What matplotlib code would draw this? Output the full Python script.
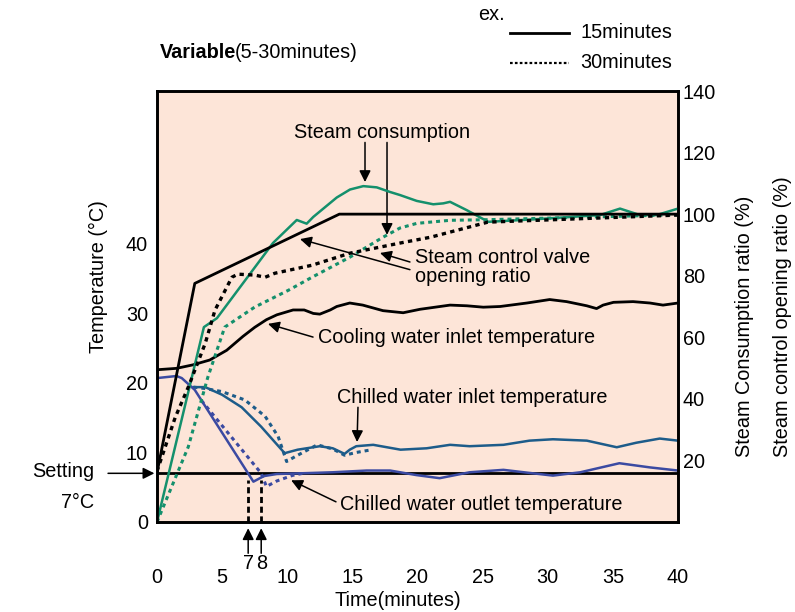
import matplotlib.pyplot as plt
from matplotlib.lines import Line2D

plt.rcParams['font.family'] = ['Liberation Sans', 'DejaVu Sans']
plt.rcParams['font.size'] = 14.3

# steam control valve opening ratio (%), right axis
valve_15_t = [0, 2.9, 14.0, 40]
valve_15 = [16, 77.5, 100, 100]
valve_30_t = [0, 0.6, 1.4, 2.4, 3.7, 4.45, 5.75, 6.2, 7.5, 8.3, 9.05, 11.9, 14.8, 18.65, 21, 25.4, 40]
valve_30 = [16.5, 24, 34, 43.8, 58, 68.8, 79.5, 80.5, 80.2, 79.5, 80.8, 83.4, 87.3, 90.6, 92.5, 97.4, 99.7]

# steam consumption ratio (%), right axis
steam_15_t = [0, 3.6, 4.6, 8.9, 10.73, 11.11, 11.49, 12.0, 12.77, 13.8, 14.82, 15.84, 16.87, 17.89,
              18.66, 19.94, 21.21, 21.98, 22.5, 23.78, 25.44, 28.89, 34.01, 35.55, 37.08, 38.36, 40]
steam_15 = [0, 63.3, 66.2, 90.6, 98.1, 97.5, 96.9, 99.1, 101.8, 105.4, 108.0, 109.1, 108.7, 107.2,
            106.2, 104.3, 103.2, 103.5, 104.0, 101.3, 97.5, 98.3, 99.7, 101.8, 99.7, 99.7, 101.8]
steam_30_t = [0, 2.4, 3.9, 5.2, 7.5, 10.1, 11.9, 14.8, 17.35, 18.66, 19.94, 22.5, 25.44, 40]
steam_30 = [0, 24.4, 47, 63.3, 69.8, 75.3, 79.5, 86, 92.5, 95.5, 97, 98, 98.2, 99.8]

# cooling water inlet temperature (C)
cooling_t = [0, 1.5, 2.75, 4.05, 5.35, 6.6, 7.5, 8.4, 9.2, 10.45, 11.3, 12.0, 12.5, 13.3, 13.8,
             14.8, 15.8, 17.35, 18.9, 20.2, 22.5, 23.8, 25.05, 26.35, 28.4, 30.15, 31.45, 33.0,
             33.75, 34.25, 35.05, 36.55, 37.85, 38.85, 40]
cooling = [21.9, 22.1, 22.6, 23.3, 24.7, 26.7, 28.0, 29.1, 29.8, 30.5, 30.5, 30.0, 29.9, 30.5, 31.0,
           31.5, 31.2, 30.4, 30.1, 30.6, 31.2, 31.1, 30.9, 31.0, 31.5, 32.0, 31.7, 31.1,
           30.7, 31.2, 31.6, 31.7, 31.5, 31.2, 31.5]

# chilled water inlet temperature (C)
inlet_15_t = [2.8, 3.7, 5.0, 6.5, 8.0, 9.8, 10.8, 12.5, 13.5, 14.4, 14.8, 15.3, 16.6, 18.7, 20.7,
              22.5, 24.0, 26.6, 28.6, 30.4, 33.0, 35.3, 36.8, 38.6, 40]
inlet_15 = [19.4, 19.4, 18.3, 16.5, 13.7, 9.9, 10.4, 10.9, 10.6, 9.8, 10.4, 10.9, 11.1, 10.4, 10.6,
            11.1, 10.9, 11.1, 11.7, 11.9, 11.7, 10.75, 11.4, 12.0, 11.7]
inlet_30_t = [2.8, 3.7, 5.0, 6.75, 8.3, 9.3, 9.95, 10.6, 11.6, 12.3, 13.5, 14.4, 15.3, 16.5]
inlet_30 = [19.4, 19.2, 18.75, 17.55, 15.2, 12.3, 8.7, 9.4, 10.4, 11.1, 10.5, 9.6, 10.0, 10.4]

# chilled water outlet temperature (C)
outlet_15_t = [0, 1.5, 1.9, 2.9, 7.4, 8.2, 9.2, 11.0, 13.5, 16.1, 17.9, 19.9, 21.7, 24.0, 26.6,
               28.4, 30.4, 32.5, 35.5, 37.85, 40]
outlet_15 = [20.7, 21.0, 20.7, 19.0, 5.8, 6.6, 6.9, 7.0, 7.15, 7.4, 7.4, 6.75, 6.3, 7.15, 7.5,
             7.1, 6.67, 7.15, 8.45, 7.85, 7.4]
outlet_30_t = [3.4, 8.0, 8.4, 9.2, 10.4, 11.2]
outlet_30 = [17.5, 7.0, 5.1, 5.9, 6.7, 7.0]

setting = 7
reach_times = [7, 8]

x_ticks = [0, 5, 10, 15, 20, 25, 30, 35, 40]
temp_ticks = [0, 10, 20, 30, 40]
ratio_ticks = [20, 40, 60, 80, 100, 120, 140]

GREEN = '#14906c'
INLET = '#1d5c8a'
OUTLET = '#3b4aa2'
dots = (0, (1.3, 1.3))

fig = plt.figure(figsize=(7.95, 6.12), dpi=100)
ax = fig.add_axes([0.1975, 0.1471, 0.6553, 0.7042])
ax.set_facecolor('#fde5d8')
ax.set_xlim(0, 40)
ax.set_ylim(0, 62)
ax2 = ax.twinx()
ax2.set_ylim(0, 140)

for a in (ax, ax2):
    for s in a.spines.values():
        s.set_linewidth(1.9)

# temperatures
ax.axhline(setting, color='black', lw=2.0)
for t in reach_times:
    ax.plot([t, t], [0, 6.1], color='black', ls=(0, (2.2, 1.3)), lw=2.0)
ax.plot(cooling_t, cooling, color='black', lw=2.0)
ax.plot(inlet_30_t, inlet_30, color=INLET, ls=dots, lw=2.2)
ax.plot(inlet_15_t, inlet_15, color=INLET, lw=1.8)
ax.plot(outlet_30_t, outlet_30, color=OUTLET, ls=dots, lw=2.2)
ax.plot(outlet_15_t, outlet_15, color=OUTLET, lw=1.8)

# steam ratios
ax2.plot(steam_30_t, steam_30, color=GREEN, ls=dots, lw=2.2)
ax2.plot(steam_15_t, steam_15, color=GREEN, lw=1.8)
ax2.plot(valve_30_t, valve_30, color='black', ls=dots, lw=2.4)
ax2.plot(valve_15_t, valve_15, color='black', lw=2.0)

ax.set_xticks(x_ticks)
ax.set_yticks(temp_ticks)
ax2.set_yticks(ratio_ticks)
ax.tick_params(axis='x', length=0, pad=33)
ax.tick_params(axis='y', length=0, pad=6.5)
ax2.tick_params(axis='y', length=0, pad=3.5)

arrow = dict(arrowstyle='-|>', color='black', lw=1.1, mutation_scale=17, shrinkA=0, shrinkB=0)

ax.text(17.3, 56.1, 'Steam consumption', ha='center', va='center')
ax.annotate('', xy=(15.97, 48.9), xytext=(15.97, 54.6), arrowprops=arrow)
ax.annotate('', xy=(17.66, 41.3), xytext=(17.66, 54.6), arrowprops=arrow)

ax.text(19.8, 38.0, 'Steam control valve', ha='left', va='center')
ax.text(19.8, 35.25, 'opening ratio', ha='left', va='center')
ax.annotate('', xy=(17.12, 38.7), xytext=(19.42, 37.4), arrowprops=arrow)
ax.annotate('', xy=(10.98, 40.7), xytext=(19.42, 36.3), arrowprops=arrow)

ax.text(12.36, 26.5, 'Cooling water inlet temperature', ha='left', va='center')
ax.annotate('', xy=(8.52, 28.5), xytext=(11.98, 26.6), arrowprops=arrow)

ax.text(13.82, 17.84, 'Chilled water inlet temperature', ha='left', va='center')
ax.annotate('', xy=(15.36, 11.5), xytext=(15.43, 16.5), arrowprops=arrow)

ax.text(14.05, 2.45, 'Chilled water outlet temperature', ha='left', va='center')
ax.annotate('', xy=(10.3, 6.0), xytext=(13.74, 2.9), arrowprops=arrow)

# setting marker on the left
ax.text(-4.8, 7.3, 'Setting', ha='right', va='center', clip_on=False)
ax.text(-4.8, 2.8, '7\u00b0C', ha='right', va='center', clip_on=False)
ax.annotate('', xy=(-0.2, setting), xytext=(-3.76, setting), arrowprops=arrow,
            annotation_clip=False)

# time to reach the setting
for t in reach_times:
    ax.annotate('', xy=(t, -0.9), xytext=(t, -4.5), arrowprops=arrow, annotation_clip=False)
    ax.text(t, -6.0, str(t), ha='center', va='center', clip_on=False)

fig.text(398 / 795, 1 - 601 / 612, 'Time(minutes)', ha='center', va='center')
fig.text(98 / 795, 1 - 277 / 612, 'Temperature (\u00b0C)', rotation=90, ha='center', va='center')
fig.text(745 / 795, 1 - 457 / 612, 'Steam Consumption ratio (%)', rotation=90,
         ha='center', va='bottom')
fig.text(783 / 795, 1 - 457 / 612, 'Steam control opening ratio (%)', rotation=90,
         ha='center', va='bottom')

fig.text(160 / 795, 1 - 52 / 612, 'Variable', ha='left', va='center', fontweight='bold')
fig.text(235 / 795, 1 - 52 / 612, '(5-30minutes)', ha='left', va='center')

# line style key
fig.text(478 / 795, 1 - 15 / 612, 'ex.', ha='left', va='center')
fig.add_artist(Line2D([510 / 795, 569 / 795], [1 - 33 / 612] * 2, color='black', lw=2.0))
fig.add_artist(Line2D([510 / 795, 569 / 795], [1 - 63 / 612] * 2, color='black', lw=1.6,
                      ls=(0, (1.2, 1.0))))
fig.text(580 / 795, 1 - 33 / 612, '15minutes', ha='left', va='center')
fig.text(580 / 795, 1 - 63 / 612, '30minutes', ha='left', va='center')

plt.savefig('out.png', dpi=100)
